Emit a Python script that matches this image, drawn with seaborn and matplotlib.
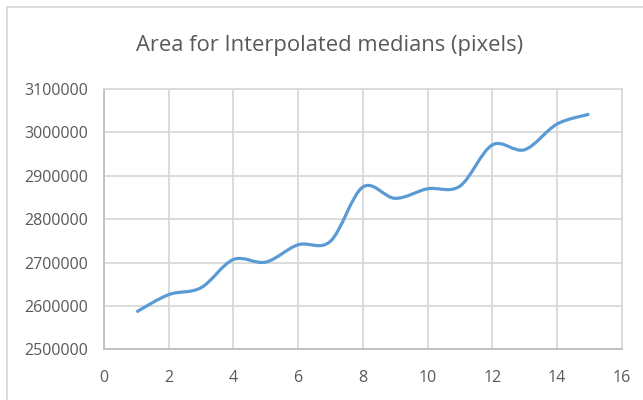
import numpy as np
import matplotlib.pyplot as plt
import seaborn as sns
from matplotlib.path import Path
from matplotlib.patches import PathPatch
from matplotlib.lines import Line2D

# values
frames = list(range(1, 16))
area = [2586000, 2626000, 2642000, 2707000, 2701000, 2741000, 2749000, 2874000,
        2848000, 2870000, 2876000, 2971000, 2960000, 3019000, 3042000]
x_ticks = [0, 2, 4, 6, 8, 10, 12, 14, 16]
y_ticks = [2500000, 2600000, 2700000, 2800000, 2900000, 3000000, 3100000]
title = "Area for Interpolated medians (pixels)"

sns.set_style("white")
plt.rcParams['font.family'] = ['Open Sans', 'DejaVu Sans']

blue = '#5B9BD5'
grey_txt = '#595959'
grid_c = '#d9d9d9'

fig = plt.figure(figsize=(6.43, 4.0), dpi=100)
ax = fig.add_axes([104 / 643, 1 - 349.3 / 400, (621.6 - 104) / 643, (349.3 - 89) / 400])

sns.lineplot(x=frames, y=area, ax=ax, color=blue, lw=2.3)

# Excel style smoothed line: bezier through the same points
line = ax.lines[0]
pts = line.get_xydata()
line.set_visible(False)
n = len(pts)
verts = [pts[0]]
codes = [Path.MOVETO]
for i in range(n - 1):
    p0 = pts[max(i - 1, 0)]
    p1 = pts[i]
    p2 = pts[i + 1]
    p3 = pts[min(i + 2, n - 1)]
    verts += [p1 + (p2 - p0) / 6, p2 - (p3 - p1) / 6, p2]
    codes += [Path.CURVE4] * 3
ax.add_patch(PathPatch(Path(verts, codes), fill=False, edgecolor=blue, lw=2.3, zorder=3))

ax.set_xlim(0, 16)
ax.set_ylim(2500000, 3100000)
ax.set_xticks(x_ticks)
ax.set_yticks(y_ticks)
ax.set_yticklabels([str(v) for v in y_ticks])
ax.set_xlabel('')
ax.set_ylabel('')
ax.grid(True, color=grid_c, lw=1.3)
for s in ax.spines.values():
    s.set_color(grid_c)
    s.set_linewidth(1.3)
ax.spines['left'].set_color('#bfbfbf')
ax.spines['bottom'].set_color('#bfbfbf')
ax.tick_params(axis='both', length=0, labelsize=11.5, labelcolor=grey_txt)
ax.tick_params(axis='y', pad=11.5)
ax.tick_params(axis='x', pad=15)

fig.text(330 / 643, 1 - 46 / 400, title, ha='center', va='center',
         fontsize=15.8, color=grey_txt)

# chart area border (left and top edges visible)
fig.add_artist(Line2D([6.5 / 643, 6.5 / 643], [0, 1 - 7 / 400], color=grid_c, lw=1.3))
fig.add_artist(Line2D([6.5 / 643, 1], [1 - 7 / 400, 1 - 7 / 400], color=grid_c, lw=1.3))

fig.savefig('out.png', dpi=100)
